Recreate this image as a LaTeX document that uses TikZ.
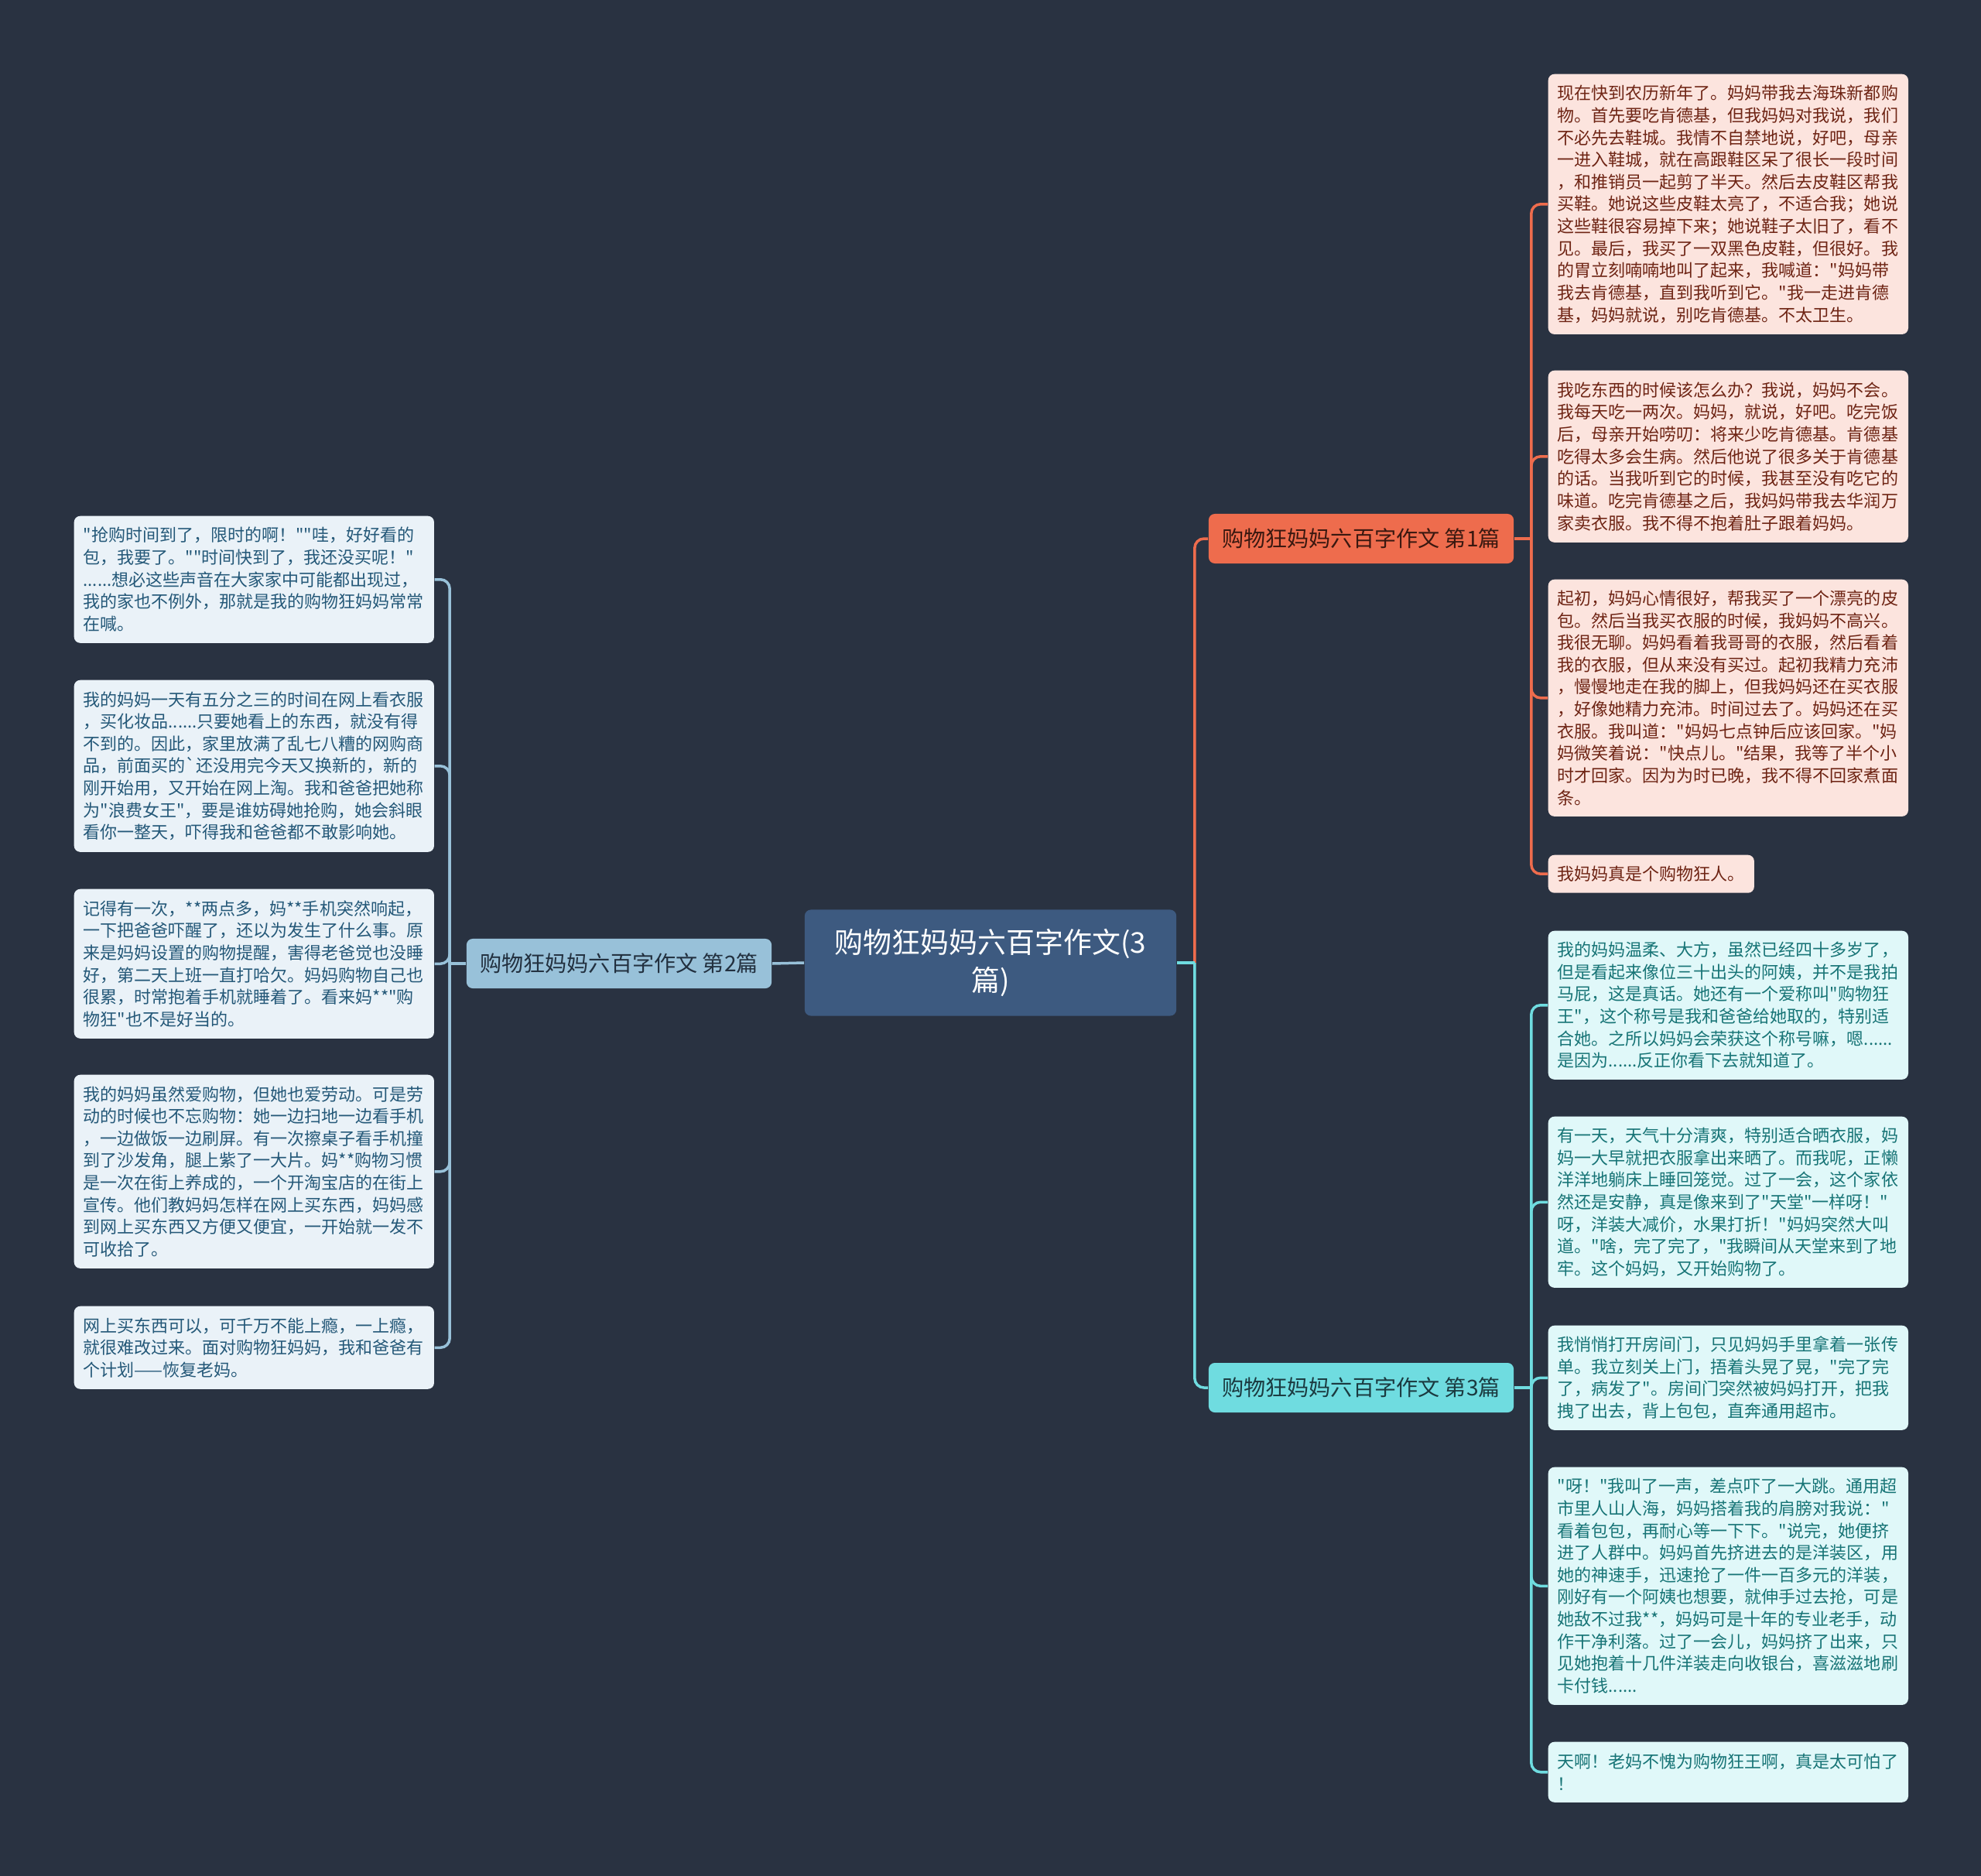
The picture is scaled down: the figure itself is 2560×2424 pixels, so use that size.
\documentclass[tikz,border=0pt]{standalone}
\usepackage{fontspec}
\newfontfamily\cjk{Noto Sans CJK SC}
\definecolor{bg}{HTML}{293241}
\definecolor{rootfill}{HTML}{3D5A80}
\definecolor{oa}{HTML}{EE6C4D}
\definecolor{ba}{HTML}{98C1D9}
\definecolor{ca}{HTML}{6FDCE0}
\definecolor{oleaf}{HTML}{FCE4DE}
\definecolor{bleaf}{HTML}{EAF2F8}
\definecolor{cleaf}{HTML}{E0F8F9}
\definecolor{otext}{HTML}{6E2414}
\definecolor{btext}{HTML}{245878}
\definecolor{ctext}{HTML}{177476}
\definecolor{obtext}{HTML}{3A1810}
\definecolor{bbtext}{HTML}{22303F}
\definecolor{cbtext}{HTML}{1B3A40}
\tikzset{
  leaf/.style={anchor=north west, rounded corners=0.08cm, inner xsep=0.12cm, inner ysep=0pt,
    align=left, font=\cjk\fontsize{6.26pt}{8.14pt}\selectfont},
  wide/.style={text width=4.41cm},
  oleafbox/.style={leaf, fill=oleaf, text=otext},
  bleafbox/.style={leaf, fill=bleaf, text=btext},
  cleafbox/.style={leaf, fill=cleaf, text=ctext},
  branchbox/.style={rounded corners=0.08cm, minimum width=3.94cm, minimum height=0.64cm, inner sep=0pt,
    font=\cjk\fontsize{8pt}{10pt}\selectfont},
  conn/.style={line width=0.035cm, rounded corners=0.12cm},
}
\begin{document}
\begin{tikzpicture}[x=0.01cm,y=-0.01cm]
\fill[bg] (0,0) rectangle (2560,2424);
\useasboundingbox (0,0) rectangle (2560,2424);

% root
\node[fill=rootfill, rounded corners=0.08cm, minimum width=4.8cm, minimum height=1.37cm, inner sep=0pt,
  align=center, text=white, font=\cjk\fontsize{10.5pt}{13.9pt}\selectfont] (root) at (1280,1244)
  {购物狂妈妈六百字作文(3\\篇)};

% branches
\node[branchbox, fill=oa, text=obtext] (b1) at (1759,696) {购物狂妈妈六百字作文 第1篇};
\node[branchbox, fill=ba, text=bbtext] (b2) at (800,1245) {购物狂妈妈六百字作文 第2篇};
\node[branchbox, fill=ca, text=cbtext] (b3) at (1759,1793) {购物狂妈妈六百字作文 第3篇};

% branch 1 leaves
\node[oleafbox, wide, minimum height=3.36cm] (l1a) at (2000,95) {现在快到农历新年了。妈妈带我去海珠新都购\\物。首先要吃肯德基，但我妈妈对我说，我们\\不必先去鞋城。我情不自禁地说，好吧，母亲\\一进入鞋城，就在高跟鞋区呆了很长一段时间\\，和推销员一起剪了半天。然后去皮鞋区帮我\\买鞋。她说这些皮鞋太亮了，不适合我；她说\\这些鞋很容易掉下来；她说鞋子太旧了，看不\\见。最后，我买了一双黑色皮鞋，但很好。我\\的胃立刻喃喃地叫了起来，我喊道："妈妈带\\我去肯德基，直到我听到它。"我一走进肯德\\基，妈妈就说，别吃肯德基。不太卫生。};
\node[oleafbox, wide, minimum height=2.22cm] (l1b) at (2000,478) {我吃东西的时候该怎么办？我说，妈妈不会。\\我每天吃一两次。妈妈，就说，好吧。吃完饭\\后，母亲开始唠叨：将来少吃肯德基。肯德基\\吃得太多会生病。然后他说了很多关于肯德基\\的话。当我听到它的时候，我甚至没有吃它的\\味道。吃完肯德基之后，我妈妈带我去华润万\\家卖衣服。我不得不抱着肚子跟着妈妈。};
\node[oleafbox, wide, minimum height=3.06cm] (l1c) at (2000,748) {起初，妈妈心情很好，帮我买了一个漂亮的皮\\包。然后当我买衣服的时候，我妈妈不高兴。\\我很无聊。妈妈看着我哥哥的衣服，然后看着\\我的衣服，但从来没有买过。起初我精力充沛\\，慢慢地走在我的脚上，但我妈妈还在买衣服\\，好像她精力充沛。时间过去了。妈妈还在买\\衣服。我叫道："妈妈七点钟后应该回家。"妈\\妈微笑着说："快点儿。"结果，我等了半个小\\时才回家。因为为时已晚，我不得不回家煮面\\条。};
\node[oleafbox, minimum height=0.49cm] (l1d) at (2000,1104) {我妈妈真是个购物狂人。};

% branch 3 leaves
\node[cleafbox, wide, minimum height=1.92cm] (l3a) at (2000,1202) {我的妈妈温柔、大方，虽然已经四十多岁了，\\但是看起来像位三十出头的阿姨，并不是我拍\\马屁，这是真话。她还有一个爱称叫"购物狂\\王"，这个称号是我和爸爸给她取的，特别适\\合她。之所以妈妈会荣获这个称号嘛，嗯......\\是因为......反正你看下去就知道了。};
\node[cleafbox, wide, minimum height=2.21cm] (l3b) at (2000,1442) {有一天，天气十分清爽，特别适合晒衣服，妈\\妈一大早就把衣服拿出来晒了。而我呢，正懒\\洋洋地躺床上睡回笼觉。过了一会，这个家依\\然还是安静，真是像来到了"天堂"一样呀！"\\呀，洋装大减价，水果打折！"妈妈突然大叫\\道。"啥，完了完了，"我瞬间从天堂来到了地\\牢。这个妈妈，又开始购物了。};
\node[cleafbox, wide, minimum height=1.35cm] (l3c) at (2000,1712) {我悄悄打开房间门，只见妈妈手里拿着一张传\\单。我立刻关上门，捂着头晃了晃，"完了完\\了，病发了"。房间门突然被妈妈打开，把我\\拽了出去，背上包包，直奔通用超市。};
\node[cleafbox, wide, minimum height=3.07cm] (l3d) at (2000,1895) {"呀！"我叫了一声，差点吓了一大跳。通用超\\市里人山人海，妈妈搭着我的肩膀对我说："\\看着包包，再耐心等一下下。"说完，她便挤\\进了人群中。妈妈首先挤进去的是洋装区，用\\她的神速手，迅速抢了一件一百多元的洋装，\\刚好有一个阿姨也想要，就伸手过去抢，可是\\她敌不过我**，妈妈可是十年的专业老手，动\\作干净利落。过了一会儿，妈妈挤了出来，只\\见她抱着十几件洋装走向收银台，喜滋滋地刷\\卡付钱......};
\node[cleafbox, wide, minimum height=0.78cm] (l3e) at (2000,2250) {天啊！老妈不愧为购物狂王啊，真是太可怕了\\！};

% branch 2 leaves
\node[bleafbox, wide, minimum height=1.64cm] (l2a) at (95,666) {"抢购时间到了，限时的啊！""哇，好好看的\\包，我要了。""时间快到了，我还没买呢！"\\......想必这些声音在大家家中可能都出现过，\\我的家也不例外，那就是我的购物狂妈妈常常\\在喊。};
\node[bleafbox, wide, minimum height=2.22cm] (l2b) at (95,878) {我的妈妈一天有五分之三的时间在网上看衣服\\，买化妆品......只要她看上的东西，就没有得\\不到的。因此，家里放满了乱七八糟的网购商\\品，前面买的`还没用完今天又换新的，新的\\刚开始用，又开始在网上淘。我和爸爸把她称\\为"浪费女王"，要是谁妨碍她抢购，她会斜眼\\看你一整天，吓得我和爸爸都不敢影响她。};
\node[bleafbox, wide, minimum height=1.93cm] (l2c) at (95,1148) {记得有一次，**两点多，妈**手机突然响起，\\一下把爸爸吓醒了，还以为发生了什么事。原\\来是妈妈设置的购物提醒，害得老爸觉也没睡\\好，第二天上班一直打哈欠。妈妈购物自己也\\很累，时常抱着手机就睡着了。看来妈**"购\\物狂"也不是好当的。};
\node[bleafbox, wide, minimum height=2.5cm] (l2d) at (95,1388) {我的妈妈虽然爱购物，但她也爱劳动。可是劳\\动的时候也不忘购物：她一边扫地一边看手机\\，一边做饭一边刷屏。有一次擦桌子看手机撞\\到了沙发角，腿上紫了一大片。妈**购物习惯\\是一次在街上养成的，一个开淘宝店的在街上\\宣传。他们教妈妈怎样在网上买东西，妈妈感\\到网上买东西又方便又便宜，一开始就一发不\\可收拾了。};
\node[bleafbox, wide, minimum height=1.07cm] (l2e) at (95,1687) {网上买东西可以，可千万不能上瘾，一上瘾，\\就很难改过来。面对购物狂妈妈，我和爸爸有\\个计划——恢复老妈。};

% junction coordinates
\coordinate (j0) at ([xshift=0.23cm]root.east);
\coordinate (k1) at ([xshift=0.22cm]b1.east);
\coordinate (k2) at ([xshift=-0.21cm]b2.west);
\coordinate (k3) at ([xshift=0.22cm]b3.east);

% root connectors
\draw[conn, oa] (j0) |- (b1.west);
\draw[conn, ca] (j0) |- (b3.west);
\draw[conn, ca] (root.east) -- (j0);
\draw[conn, ba] (root.west) -- (b2.east);

% branch 1 connectors
\draw[conn, oa] (b1.east) -- (k1);
\foreach \n in {l1a,l1b,l1c,l1d}
  \draw[conn, oa] (k1) |- (\n.west);
% branch 3 connectors
\draw[conn, ca] (b3.east) -- (k3);
\foreach \n in {l3a,l3b,l3c,l3d,l3e}
  \draw[conn, ca] (k3) |- (\n.west);
% branch 2 connectors
\draw[conn, ba] (b2.west) -- (k2);
\foreach \n in {l2a,l2b,l2c,l2d,l2e}
  \draw[conn, ba] (k2) |- (\n.east);
\end{tikzpicture}
\end{document}
